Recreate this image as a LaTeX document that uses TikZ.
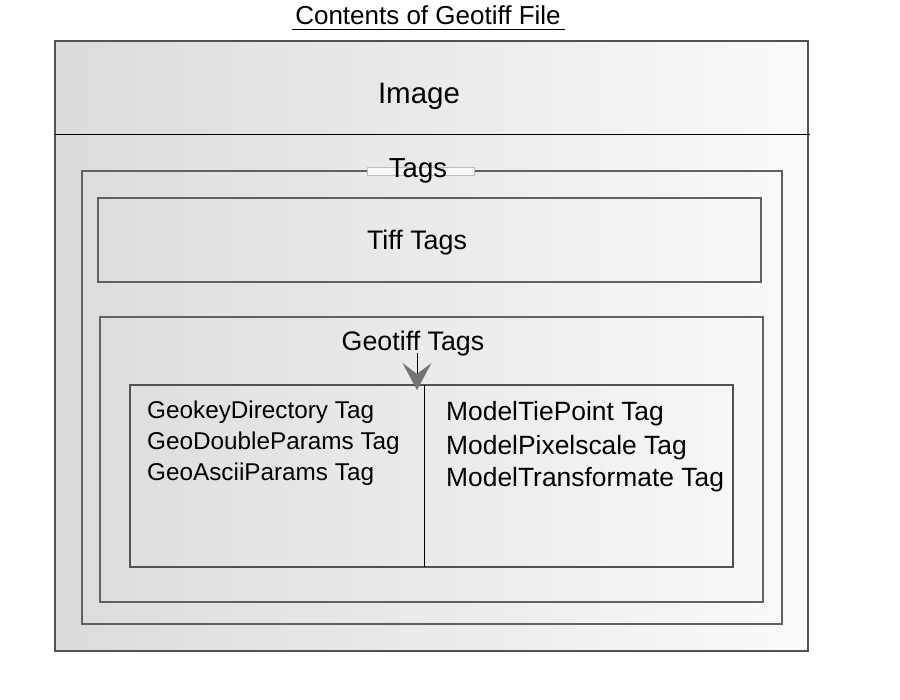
\documentclass[tikz,border=0pt]{standalone}
\usepackage{fontspec}
\setmainfont{Liberation Sans}
\usetikzlibrary{arrows.meta}

\tikzset{
  frame/.style={draw=black!62, line width=1.8pt},
  thinframe/.style={draw=black!68, line width=1.2pt},
  biglabel/.style={font=\fontsize{26.8}{32}\selectfont, anchor=base},
  listleft/.style={font=\fontsize{24.3}{29}\selectfont, anchor=base west, inner sep=0pt},
  listright/.style={font=\fontsize{26.4}{31}\selectfont, anchor=base west, inner sep=0pt}
}

\begin{document}
\begin{tikzpicture}[x=1pt,y=-1pt]
\useasboundingbox (0,0) rectangle (900,700);

% file and image part
\shade[left color=black!14, right color=black!2] (55,41) rectangle (808,651);
\draw [draw=black!68, line width=1.8pt] (55,41) rectangle (808,651);
\draw [line width=0.9pt] (55,134.5) -- (810,134.5);

\node [biglabel, font=\fontsize{26}{31}\selectfont] (title) at (428,25) {Contents of Geotiff File};
\draw [line width=0.9pt] (292,29.5) -- (565,29.5);
\node [font=\fontsize{29.5}{35}\selectfont, anchor=base] (image) at (419,104) {Image};

% tag boxes
\draw [frame] (82,171) rectangle (782,624);
\draw [fill=black!3, draw=black!25, line width=0.8pt] (367,167) rectangle (474,175);
\node [biglabel, font=\fontsize{27.5}{33}\selectfont] (tags) at (418,178) {Tags};

\draw [frame] (98,198) rectangle (761,282);
\node [biglabel] (tifftags) at (417,250) {Tiff Tags};

\draw [frame] (100,317) rectangle (763,602);
\node [biglabel] (geotifftags) at (413,351) {Geotiff Tags};

\draw [thinframe] (130,385) rectangle (733,567);
\draw [line width=0.8pt] (424,385) -- (424,567);

\node [listleft] (geokey) at (147,419) {GeokeyDirectory Tag};
\node [listleft] (geodouble) at (147,450) {GeoDoubleParams Tag};
\node [listleft] (geoascii) at (147,481) {GeoAsciiParams Tag};

\node [listright] (tiepoint) at (446,421) {ModelTiePoint Tag};
\node [listright] (pixelscale) at (446,455) {ModelPixelscale Tag};
\node [listright] (transformate) at (446,486) {ModelTransformate Tag};

\coordinate (tip) at (417,390);
\draw [line width=0.9pt, -{Stealth[length=27pt, width=29pt, inset=11pt, color=black!55]}]
  ([yshift=-2pt]geotifftags.base -| tip) -- (tip);
\end{tikzpicture}
\end{document}
